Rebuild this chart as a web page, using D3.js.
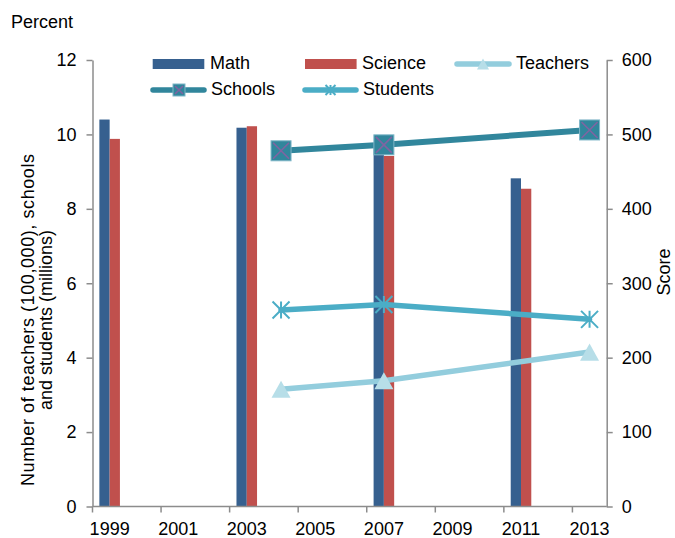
<!DOCTYPE html>
<html>
<head>
<meta charset="utf-8">
<script src="https://cdn.jsdelivr.net/npm/d3@7"></script>
<style>
  html, body { margin: 0; padding: 0; background: #fff; }
  svg { display: block; }
  text { font-family: "Liberation Sans", Arial, sans-serif; fill: #000; }
</style>
</head>
<body>
<svg id="chart" width="675" height="538"></svg>
<script>
// ---- data ----
const years = d3.range(1999, 2014);
const xTickLabels = [1999, 2001, 2003, 2005, 2007, 2009, 2011, 2013];
const barYears = [1999, 2003, 2007, 2011];
const mathScores = [520, 509, 488, 441];
const scienceScores = [494, 511, 471, 427];
const lineYears = [2004, 2007, 2013];
const schools = [9.56, 9.72, 10.12];
const students = [5.28, 5.43, 5.03];
const teachers = [3.15, 3.38, 4.15];
const leftTicks = [0, 2, 4, 6, 8, 10, 12];
const rightTicks = [0, 100, 200, 300, 400, 500, 600];

// ---- layout ----
const L = 92.5, R = 606.7, T = 60, B = 506.5;
const FS = 18;
const axisColor = "#8c8c8c";
const cMath = "#36608f", cSci = "#c0504d";
const cSchools = "#31869c", cStudents = "#4badc6", cTeachers = "#93cddd";

const svg = d3.select("#chart");

const x = d3.scaleBand().domain(years).range([L, R]).paddingInner(0).paddingOuter(0);
const bw = x.bandwidth();
const x1 = d3.scaleBand().domain(["Math", "Science"]).range([bw * 0.2, bw * 0.8]).padding(0);
const yL = d3.scaleLinear().domain([0, 12]).range([B, T]);
const yR = d3.scaleLinear().domain([0, 600]).range([B, T]);

// bars
const barData = barYears.map((yr, i) => ({ yr, Math: mathScores[i], Science: scienceScores[i] }));
const g = svg.append("g");
barData.forEach(d => {
  [["Math", cMath], ["Science", cSci]].forEach(([k, c]) => {
    g.append("rect")
      .attr("x", x(d.yr) + x1(k))
      .attr("y", yR(d[k]))
      .attr("width", x1.bandwidth())
      .attr("height", B - yR(d[k]))
      .attr("fill", c);
  });
});

// axes
const axL = svg.append("g").attr("transform", `translate(${L},0)`)
  .call(d3.axisLeft(yL).tickValues(leftTicks).tickSize(6).tickSizeOuter(0).tickPadding(10));
const axR = svg.append("g").attr("transform", `translate(${R},0)`)
  .call(d3.axisRight(yR).tickValues(rightTicks).tickSize(6).tickSizeOuter(0).tickPadding(9));
const axB = svg.append("g").attr("transform", `translate(0,${B})`)
  .call(d3.axisBottom(x).tickValues(xTickLabels).tickSize(6).tickSizeOuter(0).tickPadding(9.5));
axB.selectAll(".tick line").attr("x1", -bw / 2).attr("x2", -bw / 2);
[axL, axR, axB].forEach(a => {
  a.selectAll(".domain").attr("stroke", axisColor).attr("stroke-width", 1.5);
  a.selectAll(".tick line").attr("stroke", axisColor).attr("stroke-width", 1.5);
  a.selectAll("text").attr("font-size", FS).attr("fill", "#000")
    .style("font-family", '"Liberation Sans", Arial, sans-serif');
});
axB.select(".domain").attr("d", `M${L},0H${R}`);

// lines
const lineGen = vals => d3.line().x((d, i) => x(lineYears[i]) + bw / 2).y(d => yL(d))(vals);

function triangle(sel, cx, cy, s) {
  const h = s * 0.9;
  sel.append("path")
    .attr("d", `M${cx},${cy - h / 2}L${cx + s / 2},${cy + h / 2}L${cx - s / 2},${cy + h / 2}Z`)
    .attr("fill", "#b7dee8");
}
function squareX(sel, cx, cy, s) {
  sel.append("rect").attr("x", cx - s / 2).attr("y", cy - s / 2).attr("width", s).attr("height", s)
    .attr("fill", cSchools).attr("stroke", "#7fb6c8").attr("stroke-width", 1);
  const k = s / 2 - 2;
  sel.append("path").attr("d", `M${cx - k},${cy - k}L${cx + k},${cy + k}M${cx + k},${cy - k}L${cx - k},${cy + k}`)
    .attr("stroke", "#8064a2").attr("stroke-width", 1.6).attr("fill", "none");
}
function star(sel, cx, cy, s) {
  const k = s / 2;
  sel.append("path")
    .attr("d", `M${cx - k},${cy - k}L${cx + k},${cy + k}M${cx + k},${cy - k}L${cx - k},${cy + k}M${cx},${cy - k}L${cx},${cy + k}`)
    .attr("stroke", cStudents).attr("stroke-width", 2).attr("fill", "none");
}

const lg = svg.append("g");
lg.append("path").attr("d", lineGen(teachers)).attr("stroke", cTeachers).attr("stroke-width", 5.5).attr("fill", "none").attr("stroke-linecap", "round");
teachers.forEach((v, i) => triangle(lg, x(lineYears[i]) + bw / 2, yL(v), 19));
lg.append("path").attr("d", lineGen(schools)).attr("stroke", cSchools).attr("stroke-width", 6).attr("fill", "none").attr("stroke-linecap", "round");
schools.forEach((v, i) => squareX(lg, x(lineYears[i]) + bw / 2, yL(v), 20));
lg.append("path").attr("d", lineGen(students)).attr("stroke", cStudents).attr("stroke-width", 5.5).attr("fill", "none").attr("stroke-linecap", "round");
students.forEach((v, i) => star(lg, x(lineYears[i]) + bw / 2, yL(v), 17));

// legend
const leg = svg.append("g");
function legText(xp, yp, t) {
  leg.append("text").attr("x", xp).attr("y", yp).attr("dy", "0.35em").attr("font-size", FS).text(t);
}
leg.append("rect").attr("x", 152.7).attr("y", 59).attr("width", 51.6).attr("height", 10).attr("fill", cMath);
legText(210, 63, "Math");
leg.append("rect").attr("x", 305).attr("y", 59).attr("width", 51.6).attr("height", 10).attr("fill", cSci);
legText(362, 63, "Science");
leg.append("line").attr("x1", 457).attr("x2", 509).attr("y1", 64).attr("y2", 64).attr("stroke", cTeachers).attr("stroke-width", 5.5).attr("stroke-linecap", "round");
triangle(leg, 483, 64, 12);
legText(516, 63, "Teachers");
leg.append("line").attr("x1", 153).attr("x2", 204).attr("y1", 90).attr("y2", 90).attr("stroke", cSchools).attr("stroke-width", 5.5).attr("stroke-linecap", "round");
squareX(leg, 179, 90, 12);
legText(211, 89, "Schools");
leg.append("line").attr("x1", 305).attr("x2", 356).attr("y1", 90).attr("y2", 90).attr("stroke", cStudents).attr("stroke-width", 5.5).attr("stroke-linecap", "round");
star(leg, 330.5, 90, 10);
legText(363, 89, "Students");

// titles
svg.append("text").attr("x", 11).attr("y", 28).attr("font-size", FS).text("Percent");
const lt = svg.append("text").attr("transform", "translate(0,320) rotate(-90)").attr("text-anchor", "middle").attr("font-size", FS);
lt.append("tspan").attr("x", 0).attr("y", 34).attr("textLength", 332).attr("lengthAdjust", "spacing").text("Number of teachers (100,000), schools");
lt.append("tspan").attr("x", 0).attr("y", 52).text("and students (millions)");
svg.append("text").attr("transform", "translate(670,272) rotate(-90)").attr("text-anchor", "middle").attr("font-size", FS).text("Score");
</script>
</body>
</html>
